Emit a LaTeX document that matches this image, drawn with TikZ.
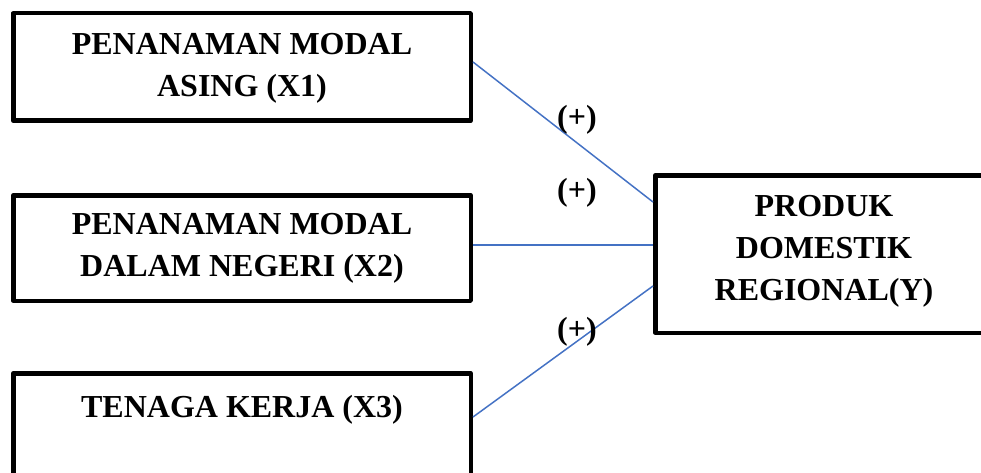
\documentclass[tikz,border=0pt]{standalone}
\usepackage{fontspec}
\setmainfont{Liberation Serif}
\usetikzlibrary{calc}
\begin{document}
\begin{tikzpicture}[x=1pt,y=-1pt,
  box/.style={draw=black,line width=4.5pt,line join=round,rectangle,inner sep=0pt},
  boxtext/.style={font=\fontsize{32}{42}\selectfont\bfseries,align=center,inner sep=0pt},
  sign/.style={font=\fontsize{32}{42}\selectfont\bfseries,inner sep=0pt},
  link/.style={draw={rgb,255:red,68;green,114;blue,196},line width=1.5pt}]
\useasboundingbox (0,0) rectangle (981,473);
\clip (0,0) rectangle (981,473);
% boxes
\node[box,minimum width=457.5pt,minimum height=107.5pt] (x1) at (242,67) {};
\node[box,minimum width=457.5pt,minimum height=105.5pt] (x2) at (242,248) {};
\node[box,minimum width=457.5pt,minimum height=114.5pt] (x3) at (242,430.5) {};
\node[box,minimum width=337.5pt,minimum height=157.5pt] (y) at (824,254) {};
% texts
\node[boxtext] (t1) at (242,68) {PENANAMAN MODAL\\ASING (X1)};
\node[boxtext] (t2) at (242,248) {PENANAMAN MODAL\\DALAM NEGERI (X2)};
\node[boxtext] (t3) at (242,410) {TENAGA KERJA (X3)};
\node[boxtext] (ty) at (824,251) {PRODUK\\DOMESTIK\\REGIONAL(Y)};
% connectors
\draw[link] ([yshift=5pt]x1.east) -- ([yshift=52pt]y.west);
\draw[link] ([yshift=3pt]x2.east) -- ([yshift=9pt]y.west);
\draw[link] ([yshift=13.5pt]x3.east) -- ([yshift=-32pt]y.west);
% signs
\node[sign] (s1) at (577,120) {(+)};
\node[sign] (s2) at (577,193) {(+)};
\node[sign] (s3) at (577,332) {(+)};
\end{tikzpicture}
\end{document}
